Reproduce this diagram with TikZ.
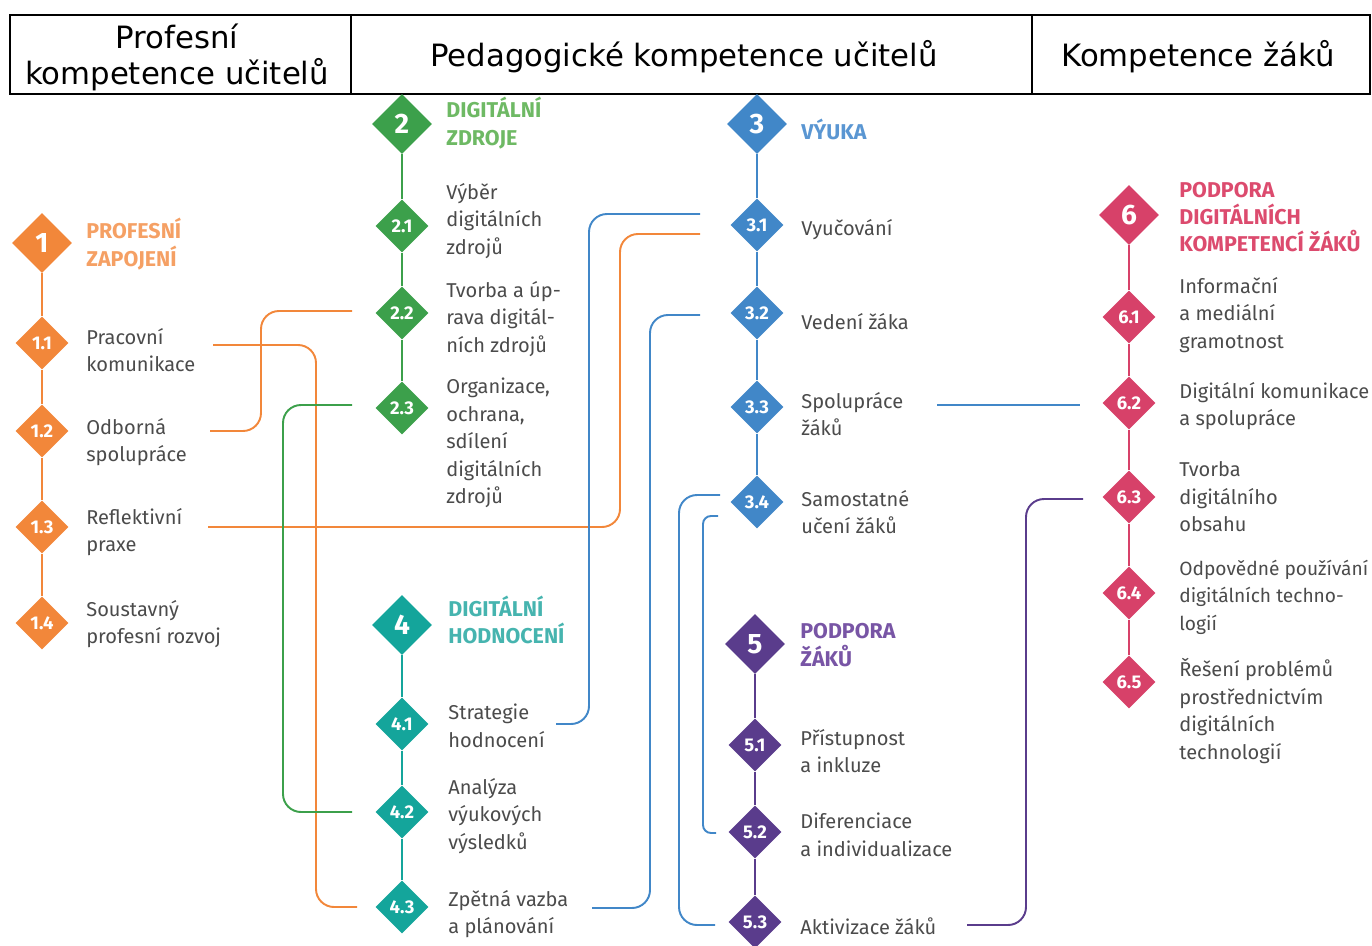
\documentclass[tikz,border=0pt]{standalone}
\usepackage{fontspec}
\setmainfont{Fira Sans}
\newfontfamily\headfont{DejaVu Sans}
\usetikzlibrary{shapes.geometric}

\definecolor{txtgray}{RGB}{75,75,75}
\definecolor{orangeD}{RGB}{242,135,58}
\definecolor{orangeH}{RGB}{245,160,100}
\definecolor{greenD}{RGB}{60,160,75}
\definecolor{greenH}{RGB}{110,185,100}
\definecolor{tealD}{RGB}{20,165,155}
\definecolor{tealH}{RGB}{70,180,175}
\definecolor{blueD}{RGB}{65,135,200}
\definecolor{blueH}{RGB}{90,150,210}
\definecolor{purpleD}{RGB}{90,60,140}
\definecolor{purpleH}{RGB}{120,85,165}
\definecolor{pinkD}{RGB}{215,65,105}
\definecolor{pinkH}{RGB}{220,75,110}

\begin{document}
\begin{tikzpicture}[x=0.02cm, y=0.02cm]
\tikzstyle{every node}+=[inner sep=0pt]
\tikzstyle{cell}=[draw=black, line width=1.1pt, minimum height=1.58cm]
\tikzstyle{celltext}=[align=center, font=\headfont\fontsize{17.5}{20.4}\selectfont]
\tikzstyle{bigdia}=[diamond, minimum size=1.2cm, text=white, font=\bfseries\fontsize{16}{16}\selectfont]
\tikzstyle{dia}=[diamond, minimum size=1.06cm, text=white, font=\bfseries\fontsize{10.5}{10.5}\selectfont]
\tikzstyle{lbl}=[anchor=west, align=left, text=txtgray, font=\fontsize{11.4}{15.6}\selectfont]
\tikzstyle{head}=[anchor=west, align=left, font=\bfseries\fontsize{12.2}{15.6}\selectfont]
\tikzstyle{spine}=[line width=1.2pt]
\tikzstyle{conn}=[line width=1.1pt, rounded corners=0.36cm]
\useasboundingbox (0,0) rectangle (1372,-946);
% header
\node [cell, minimum width=6.82cm] (hd1) at (180.5,-54.5) {};
\node [cell, minimum width=13.62cm] (hd2) at (691.5,-54.5) {};
\node [cell, minimum width=6.76cm] (hd3) at (1201,-54.5) {};
\node [celltext] (ht1) at (177,-57) {Profesní\\kompetence učitelů};
\node [celltext] (ht2) at (684,-57) {Pedagogické kompetence učitelů};
\node [celltext] (ht3) at (1198,-57) {Kompetence žáků};
% 1
\node [bigdia, fill=orangeD] (d1) at (42,-243) {1};
\node [head, text=orangeH] (h1) at (86,-244) {PROFESNÍ\\ZAPOJENÍ};
\node [dia, fill=orangeD] (d11) at (42,-343) {1.1};
\node [lbl] (t11) at (86,-350) {Pracovní\\komunikace};
\node [dia, fill=orangeD] (d12) at (42,-431) {1.2};
\node [lbl] (t12) at (86,-442) {Odborná\\spolupráce};
\node [dia, fill=orangeD] (d13) at (42,-527) {1.3};
\node [lbl] (t13) at (86,-532) {Reflektivní\\praxe};
\node [dia, fill=orangeD] (d14) at (42,-623) {1.4};
\node [lbl] (t14) at (86,-624) {Soustavný\\profesní rozvoj};
% 2
\node [bigdia, fill=greenD] (d2) at (402,-124) {2};
\node [head, text=greenH] (h2) at (446,-123) {DIGITÁLNÍ\\ZDROJE};
\node [dia, fill=greenD] (d21) at (402,-226) {2.1};
\node [lbl] (t21) at (446,-221) {Výběr\\digitálních\\zdrojů};
\node [dia, fill=greenD] (d22) at (402,-313) {2.2};
\node [lbl] (t22) at (446,-319) {Tvorba a úp-\\rava digitál-\\ních zdrojů};
\node [dia, fill=greenD] (d23) at (402,-408) {2.3};
\node [lbl] (t23) at (446,-443) {Organizace,\\ochrana,\\sdílení\\digitálních\\zdrojů};
% 4
\node [bigdia, fill=tealD] (d4) at (402,-625) {4};
\node [head, text=tealH] (h4) at (448,-620) {DIGITÁLNÍ\\HODNOCENÍ};
\node [dia, fill=tealD] (d41) at (402,-724) {4.1};
\node [lbl] (t41) at (448,-726) {Strategie\\hodnocení};
\node [dia, fill=tealD] (d42) at (402,-812) {4.2};
\node [lbl] (t42) at (448,-816) {Analýza\\výukových\\výsledků};
\node [dia, fill=tealD] (d43) at (402,-907) {4.3};
\node [lbl] (t43) at (448,-914) {Zpětná vazba\\a plánování};
% 3
\node [bigdia, fill=blueD] (d3) at (757,-124) {3};
\node [head, text=blueH] (h3) at (801,-129) {VÝUKA};
\node [dia, fill=blueD] (d31) at (757,-225) {3.1};
\node [lbl] (t31) at (801,-230) {Vyučování};
\node [dia, fill=blueD] (d32) at (757,-313) {3.2};
\node [lbl] (t32) at (801,-322) {Vedení žáka};
\node [dia, fill=blueD] (d33) at (757,-407) {3.3};
\node [lbl] (t33) at (801,-414) {Spolupráce\\žáků};
\node [dia, fill=blueD] (d34) at (757,-502) {3.4};
\node [lbl] (t34) at (801,-512) {Samostatné\\učení žáků};
% 5
\node [bigdia, fill=purpleD] (d5) at (755,-644) {5};
\node [head, text=purpleH] (h5) at (800,-645) {PODPORA\\ŽÁKŮ};
\node [dia, fill=purpleD] (d51) at (755,-745) {5.1};
\node [lbl] (t51) at (800,-751) {Přístupnost\\a inkluze};
\node [dia, fill=purpleD] (d52) at (755,-832) {5.2};
\node [lbl] (t52) at (800,-835) {Diferenciace\\a individualizace};
\node [dia, fill=purpleD] (d53) at (755,-922) {5.3};
\node [lbl] (t53) at (800,-926) {Aktivizace žáků};
% 6
\node [bigdia, fill=pinkD] (d6) at (1129,-215) {6};
\node [head, text=pinkH] (h6) at (1179,-217) {PODPORA\\DIGITÁLNÍCH\\KOMPETENCÍ ŽÁKŮ};
\node [dia, fill=pinkD] (d61) at (1129,-317) {6.1};
\node [lbl] (t61) at (1179,-315) {Informační\\a mediální\\gramotnost};
\node [dia, fill=pinkD] (d62) at (1129,-403) {6.2};
\node [lbl] (t62) at (1179,-406) {Digitální komunikace\\a spolupráce};
\node [dia, fill=pinkD] (d63) at (1129,-497) {6.3};
\node [lbl] (t63) at (1179,-497) {Tvorba\\digitálního\\obsahu};
\node [dia, fill=pinkD] (d64) at (1129,-593) {6.4};
\node [lbl, font=\fontsize{10.9}{15.6}\selectfont] (t64) at (1179,-597) {Odpovědné používání\\digitálních techno-\\logií};
\node [dia, fill=pinkD] (d65) at (1129,-682) {6.5};
\node [lbl] (t65) at (1179,-711) {Řešení problémů\\prostřednictvím\\digitálních\\technologií};
% spines
\draw [spine, orangeD] (d1) -- (d11);
\draw [spine, orangeD] (d11) -- (d12);
\draw [spine, orangeD] (d12) -- (d13);
\draw [spine, orangeD] (d13) -- (d14);
\draw [spine, greenD] (d2) -- (d21);
\draw [spine, greenD] (d21) -- (d22);
\draw [spine, greenD] (d22) -- (d23);
\draw [spine, tealD] (d4) -- (d41);
\draw [spine, tealD] (d41) -- (d42);
\draw [spine, tealD] (d42) -- (d43);
\draw [spine, blueD] (d3) -- (d31);
\draw [spine, blueD] (d31) -- (d32);
\draw [spine, blueD] (d32) -- (d33);
\draw [spine, blueD] (d33) -- (d34);
\draw [spine, purpleD] (d5) -- (d51);
\draw [spine, purpleD] (d51) -- (d52);
\draw [spine, purpleD] (d52) -- (d53);
\draw [spine, pinkD] (d6) -- (d61);
\draw [spine, pinkD] (d61) -- (d62);
\draw [spine, pinkD] (d62) -- (d63);
\draw [spine, pinkD] (d63) -- (d64);
\draw [spine, pinkD] (d64) -- (d65);
% connector ends
\coordinate (s11) at (213,-345);
\coordinate (e43a) at (357,-907);
\coordinate (s12) at (210,-431);
\coordinate (e22) at (352,-311);
\coordinate (s13) at (208,-527);
\coordinate (e31a) at (700,-234);
\coordinate (s23) at (352,-405);
\coordinate (e42) at (352,-812);
\coordinate (s31) at (700,-214);
\coordinate (e41) at (556,-724);
\coordinate (s32) at (700,-315);
\coordinate (e43b) at (592,-908);
\coordinate (s34a) at (720,-495);
\coordinate (e53) at (715,-925);
\coordinate (s34b) at (718,-516);
\coordinate (e52) at (716,-833);
\coordinate (s33) at (937,-405);
\coordinate (e62) at (1080,-405);
\coordinate (s53) at (967,-925);
\coordinate (e63) at (1083,-499);
% connectors
\draw [conn, orangeD] (s11) -| (316,-907) -- (e43a);
\draw [conn, orangeD] (s12) -| (261,-311) -- (e22);
\draw [conn, orangeD] (s13) -| (620,-234) -- (e31a);
\draw [conn, greenD] (s23) -| (283,-812) -- (e42);
\draw [conn, blueD] (s31) -| (589,-724) -- (e41);
\draw [conn, blueD] (s32) -| (650,-908) -- (e43b);
\draw [conn, blueD] (s34a) -| (679,-925) -- (e53);
\draw [conn, blueD, rounded corners=0.16cm] (s34b) -| (703,-833) -- (e52);
\draw [conn, blueD] (s33) -- (e62);
\draw [conn, purpleD] (s53) -| (1026,-499) -- (e63);
\end{tikzpicture}
\end{document}
